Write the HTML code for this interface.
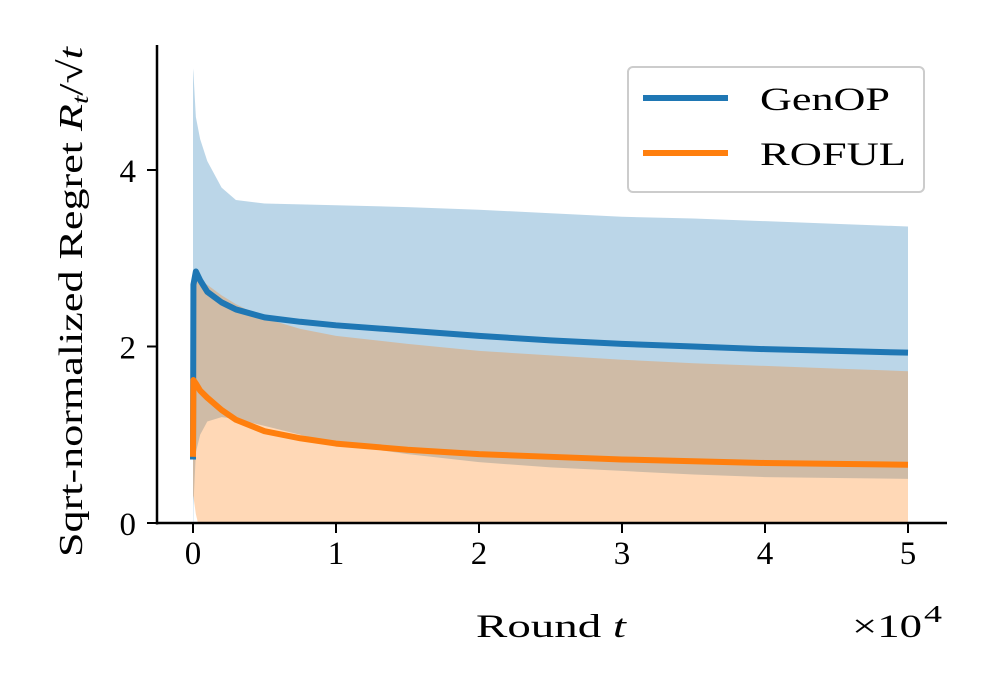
<!DOCTYPE html>
<html><head><meta charset="utf-8"><style>
body{margin:0;background:#fff;}
text{font-family:"Liberation Serif",serif;fill:#000;}
</style></head><body>
<svg id="chart" width="990" height="690" viewBox="0 0 990 690" xmlns="http://www.w3.org/2000/svg">
<defs><clipPath id="plotclip"><rect x="157" y="20" width="790" height="503"/></clipPath></defs>
<g id="fills" clip-path="url(#plotclip)"></g>
<g id="lines" clip-path="url(#plotclip)"></g>
<g id="axes"></g>
<text transform="translate(82,302) rotate(-90)" text-anchor="middle" font-size="34" textLength="510" lengthAdjust="spacingAndGlyphs">Sqrt-normalized Regret <tspan font-style="italic">R</tspan><tspan font-style="italic" font-size="23" dy="6">t</tspan><tspan dy="-6">/√<tspan font-style="italic">t</tspan></tspan></text>
<text x="476" y="637" font-size="33" textLength="150" lengthAdjust="spacingAndGlyphs">Round <tspan font-style="italic">t</tspan></text>
<text x="852" y="637" font-size="33" textLength="70" lengthAdjust="spacingAndGlyphs">×10</text>
<text x="924" y="622" font-size="24" textLength="18" lengthAdjust="spacingAndGlyphs">4</text>
<g>
<rect x="628" y="67" width="296" height="125" rx="5" fill="#fff" fill-opacity="0.8" stroke="#ccc" stroke-width="2"/>
<line x1="643" y1="98" x2="728" y2="98" stroke="#1f77b4" stroke-width="6"/>
<text x="760" y="110" font-size="33" textLength="130" lengthAdjust="spacingAndGlyphs">GenOP</text>
<line x1="643" y1="153" x2="728" y2="153" stroke="#ff7f0e" stroke-width="6"/>
<text x="760" y="165" font-size="33" textLength="146" lengthAdjust="spacingAndGlyphs">ROFUL</text>
</g>
</svg>
<script>
const tVals=[0,0.003,0.02,0.05,0.1,0.2,0.3,0.5,0.75,1,1.5,2,2.5,3,3.5,4,4.5,5];
const genopMean=[0.72,2.7,2.85,2.75,2.62,2.5,2.42,2.33,2.28,2.24,2.18,2.12,2.07,2.03,2.0,1.97,1.95,1.93];
const genopUpper=[5.15,5.1,4.6,4.35,4.1,3.8,3.66,3.62,3.61,3.6,3.58,3.55,3.51,3.47,3.45,3.42,3.39,3.36];
const genopLower=[-1,0.2,0.8,1.0,1.15,1.2,1.18,1.1,1.0,0.9,0.78,0.69,0.63,0.59,0.55,0.52,0.51,0.5];
const rofulMean=[0.75,1.62,1.58,1.5,1.42,1.28,1.17,1.04,0.96,0.9,0.83,0.78,0.75,0.72,0.7,0.68,0.67,0.66];
const rofulUpper=[1.0,2.75,2.78,2.75,2.7,2.58,2.48,2.32,2.2,2.12,2.03,1.95,1.9,1.85,1.81,1.78,1.75,1.72];
const rofulLower=[0.3,0.3,0.1,-0.1,-0.3,-0.2,-0.15,-0.25,-0.3,-0.3,-0.37,-0.39,-0.4,-0.41,-0.41,-0.42,-0.42,-0.42];
const xTicks=[0,1,2,3,4,5];
const yTicks=[0,2,4];
const NS="http://www.w3.org/2000/svg";
const X=v=>193+v*143;
const Y=v=>523-v*88.25;
function mk(tag,attrs,parent){const e=document.createElementNS(NS,tag);for(const k in attrs)e.setAttribute(k,attrs[k]);parent.appendChild(e);return e;}
const fills=document.getElementById('fills'),lines=document.getElementById('lines'),axes=document.getElementById('axes');
function band(lo,hi,color,name){
  let d='M'+tVals.map((t,i)=>X(t)+','+Y(hi[i])).join('L');
  for(let i=tVals.length-1;i>=0;i--)d+='L'+X(tVals[i])+','+Y(lo[i]);
  const p=mk('path',{d:d+'Z',fill:color,'fill-opacity':0.3},fills);
  
  
}
function line(m,color,name){
  const p=mk('path',{d:'M'+tVals.map((t,i)=>X(t)+','+Y(m[i])).join('L'),fill:'none',stroke:color,'stroke-width':6,'stroke-linejoin':'round'},lines);
  
  
}
band(genopLower,genopUpper,'#1f77b4','genop-band');
band(rofulLower,rofulUpper,'#ff7f0e','roful-band');
line(genopMean,'#1f77b4','genop-line');
line(rofulMean,'#ff7f0e','roful-line');
const ls=mk('line',{x1:157,y1:45,x2:157,y2:524.5,stroke:'#000','stroke-width':2.5},axes);


const bs=mk('line',{x1:156,y1:523,x2:947,y2:523,stroke:'#000','stroke-width':2.5},axes);


xTicks.forEach(v=>{
  const tk=mk('line',{x1:X(v),y1:523,x2:X(v),y2:533,stroke:'#000','stroke-width':2},axes);
  
  
  const tx=mk('text',{x:X(v),y:564,'text-anchor':'middle','font-size':33},axes);
  tx.textContent=v;
  
  
});
yTicks.forEach(v=>{
  const tk=mk('line',{x1:147,y1:Y(v),x2:157,y2:Y(v),stroke:'#000','stroke-width':2},axes);
  
  
  const tx=mk('text',{x:136,y:Y(v)+12,'text-anchor':'end','font-size':33},axes);
  tx.textContent=v;
  
  
});
</script>
</body></html>
